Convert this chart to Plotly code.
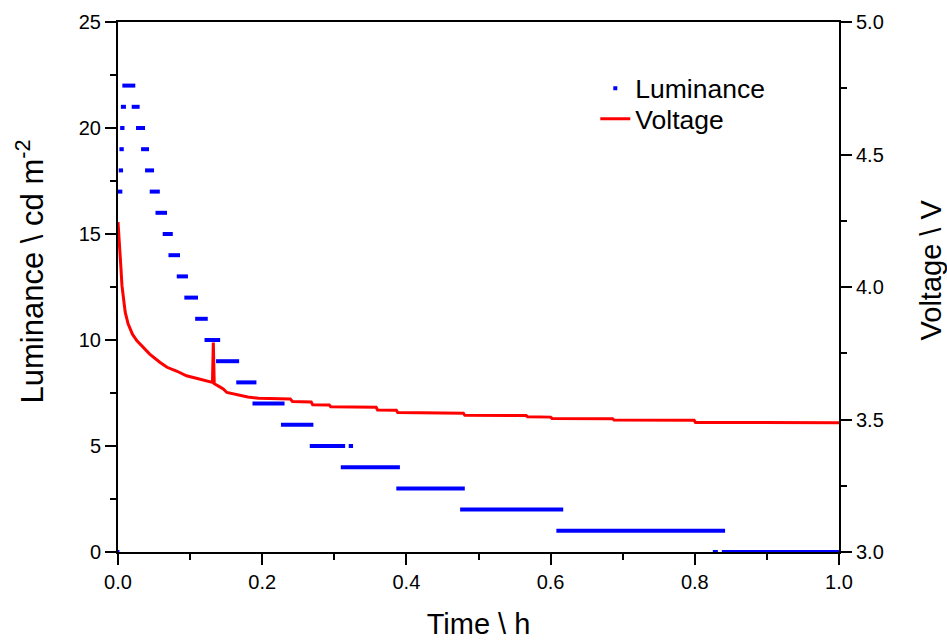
import plotly.graph_objects as go

# Luminance (cd m^-2): quantised readings, each held over a time window (h)
lum_value = [0, 17, 18, 19, 20, 21, 22, 21, 20, 19, 18, 17, 16, 15, 14, 13, 12,
             11, 10, 9, 8, 7, 6, 5, 5, 4, 3, 2, 1, 0, 0]
lum_start = [0.000, 0.000, 0.001, 0.002, 0.003, 0.004, 0.006, 0.019, 0.025, 0.032,
             0.0375, 0.044, 0.052, 0.062, 0.070, 0.0815, 0.092, 0.107, 0.120, 0.136,
             0.164, 0.1865, 0.226, 0.266, 0.320, 0.309, 0.386, 0.4745, 0.608, 0.825, 0.8375]
lum_end = [0.002, 0.006, 0.007, 0.008, 0.009, 0.011, 0.024, 0.030, 0.0375, 0.043,
           0.050, 0.058, 0.068, 0.076, 0.086, 0.097, 0.111, 0.1245, 0.1417, 0.168,
           0.192, 0.231, 0.271, 0.315, 0.326, 0.391, 0.481, 0.6175, 0.842, 0.832, 1.000]

# Voltage (V) vs time (h)
volt_t = [0.000, 0.001, 0.002, 0.003, 0.004, 0.0055, 0.0074, 0.010, 0.014, 0.020,
          0.026, 0.035, 0.044, 0.058, 0.068, 0.082, 0.095, 0.110, 0.123, 0.131,
          0.1322, 0.1328, 0.1335, 0.140, 0.146, 0.151, 0.160, 0.180, 0.195, 0.239,
          0.242, 0.268, 0.270, 0.293, 0.295, 0.358, 0.360, 0.386, 0.388, 0.479,
          0.481, 0.566, 0.568, 0.600, 0.602, 0.686, 0.688, 0.799, 0.801, 1.000]
volt_v = [4.245, 4.190, 4.140, 4.105, 4.075, 4.005, 3.955, 3.905, 3.861, 3.822,
          3.798, 3.772, 3.747, 3.716, 3.697, 3.682, 3.665, 3.655, 3.647, 3.640,
          3.790, 3.650, 3.635, 3.625, 3.615, 3.602, 3.596, 3.585, 3.580, 3.577,
          3.568, 3.566, 3.556, 3.555, 3.548, 3.546, 3.536, 3.535, 3.526, 3.524,
          3.516, 3.515, 3.510, 3.509, 3.504, 3.503, 3.498, 3.497, 3.489, 3.488]

FONT = "Liberation Sans, Arial, sans-serif"

seg_x, seg_y = [], []
for v, s, e in zip(lum_value, lum_start, lum_end):
    seg_x += [s, e, None]
    seg_y += [v, v, None]

fig = go.Figure()
fig.add_trace(go.Scatter(x=seg_x, y=seg_y, mode="lines",
                         line=dict(color="#0000FF", width=4),
                         showlegend=False, hoverinfo="skip"))
fig.add_trace(go.Scatter(x=[None], y=[None], mode="markers", name="Luminance",
                         marker=dict(symbol="square", size=4, color="#0000FF"),
                         legend="legend"))
fig.add_trace(go.Scatter(x=volt_t, y=volt_v, mode="lines", name="Voltage",
                         line=dict(color="#FF0000", width=3), yaxis="y2",
                         legend="legend2"))

axis_common = dict(showline=True, linecolor="black", linewidth=2, ticks="outside",
                   ticklen=11, tickwidth=2, tickcolor="black", showgrid=False,
                   zeroline=False, automargin=False,
                   tickfont=dict(family=FONT, size=20, color="black"))
minor_common = dict(ticks="outside", ticklen=6, tickwidth=2, tickcolor="black")
legend_common = dict(x=0.662, xanchor="left", yanchor="top",
                     bgcolor="rgba(0,0,0,0)", font=dict(family=FONT, size=26.5))

fig.update_layout(
    template="none",
    width=947, height=640,
    margin=dict(l=118, r=108, t=22, b=88, autoexpand=False),
    paper_bgcolor="white", plot_bgcolor="white",
    font=dict(family=FONT, color="black"),
    xaxis=dict(range=[0, 1], dtick=0.2, tickformat=".1f", mirror=True,
               minor=dict(dtick=0.1, **minor_common),
               title=dict(text="Time \\ h", font=dict(family=FONT, size=29), standoff=30),
               **axis_common),
    yaxis=dict(range=[0, 25], dtick=5, mirror=True,
               minor=dict(dtick=2.5, **minor_common),
               **axis_common),
    yaxis2=dict(range=[3, 5], dtick=0.5, tickformat=".1f", overlaying="y", side="right",
                minor=dict(dtick=0.25, **minor_common),
                **axis_common),
    legend=dict(y=0.92, **legend_common),
    legend2=dict(y=0.862, **legend_common),
    annotations=[
        dict(text="Luminance \\ cd m<sup>-2</sup>", textangle=-90, xref="paper", yref="paper",
             x=(30 - 118) / 721, y=1 - (271 - 22) / 529, xanchor="center", yanchor="middle",
             showarrow=False, font=dict(family=FONT, size=31, color="black")),
        dict(text="Voltage \\ V", textangle=-90, xref="paper", yref="paper",
             x=(931 - 118) / 721, y=1 - (270 - 22) / 529, xanchor="center", yanchor="middle",
             showarrow=False, font=dict(family=FONT, size=29, color="black")),
    ],
)

fig.write_html("out.html")
